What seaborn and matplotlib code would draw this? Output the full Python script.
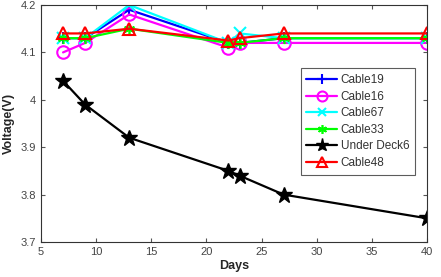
import matplotlib
matplotlib.use("Agg")
import matplotlib.pyplot as plt
import seaborn as sns
import pandas as pd

days = [7, 9, 13, 22, 23, 27, 40]
cable19 = [4.13, 4.13, 4.19, 4.12, 4.12, 4.13, 4.13]
cable16 = [4.10, 4.12, 4.18, 4.11, 4.12, 4.12, 4.12]
cable67 = [4.13, 4.13, 4.20, 4.12, 4.14, 4.13, 4.13]
cable33 = [4.13, 4.13, 4.15, 4.12, 4.12, 4.13, 4.13]
under_deck6 = [4.04, 3.99, 3.92, 3.85, 3.84, 3.80, 3.75]
cable48 = [4.14, 4.14, 4.15, 4.125, 4.13, 4.14, 4.14]

series = [
    ("Cable19", cable19, "#0000ff", "+", dict(markersize=9, markeredgewidth=1.5)),
    ("Cable16", cable16, "#ff00ff", "o", dict(markersize=9, markerfacecolor="none", markeredgewidth=1.5)),
    ("Cable67", cable67, "#00ffff", "x", dict(markersize=8, markeredgewidth=1.5)),
    ("Cable33", cable33, "#00ff00", (6, 2, 0), dict(markersize=8, markeredgewidth=1.2)),
    ("Under Deck6", under_deck6, "#000000", "*", dict(markersize=12, markerfacecolor="#000000", markeredgewidth=1.0)),
    ("Cable48", cable48, "#ff0000", "^", dict(markersize=9, markerfacecolor="none", markeredgewidth=1.5)),
]

sns.set_style("white")
plt.rcParams["font.family"] = ["Liberation Sans", "DejaVu Sans"]

fig = plt.figure(figsize=(4.41, 2.77), dpi=100)
ax = fig.add_axes([41/441, 1 - 242/277, (427-41)/441, (242-5)/277])

for name, vals, col, mk, kw in series:
    df = pd.DataFrame({"Days": days, "V": vals})
    sns.lineplot(data=df, x="Days", y="V", ax=ax, color=col, marker=mk,
                 linewidth=1.6, label=name, markeredgecolor=col, **kw)

ax.set_xlim(5, 40)
ax.set_ylim(3.7, 4.2)
ax.set_xticks([5, 10, 15, 20, 25, 30, 35, 40])
ax.set_yticks([3.7, 3.8, 3.9, 4.0, 4.1, 4.2])
ax.set_yticklabels(["3.7", "3.8", "3.9", "4", "4.1", "4.2"])
ax.tick_params(axis="both", labelsize=8, labelcolor="#444444", direction="in",
               length=3, color="#555555", top=True, right=True, bottom=True, left=True)
for s in ax.spines.values():
    s.set_color("#333333")
    s.set_linewidth(0.8)
ax.set_xlabel("Days", fontsize=9, fontweight="bold", labelpad=2)
ax.set_ylabel("Voltage(V)", fontsize=9, fontweight="bold", labelpad=4)

leg = ax.legend(loc="upper left", bbox_to_anchor=(0.657, 0.757), fontsize=8.5,
                frameon=True, fancybox=False, edgecolor="#333333",
                handlelength=2.6, labelspacing=0.38, borderpad=0.5,
                handletextpad=0.3, markerscale=0.8)
leg.get_frame().set_linewidth(0.8)
for t in leg.get_texts():
    t.set_color("#333333")

fig.savefig("out.png", dpi=100)
